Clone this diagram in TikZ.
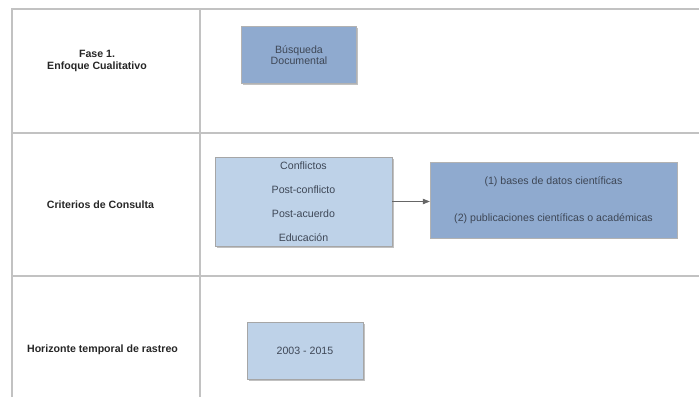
\documentclass[tikz,border=0pt]{standalone}
\usepackage{fontspec}
\setmainfont{Liberation Sans}
\usepackage{xcolor}
\usepackage{tikz}
\usetikzlibrary{arrows.meta, positioning, shadows}

\definecolor{boxdark}{HTML}{8FAACF}
\definecolor{boxlight}{HTML}{BED2E8}
\definecolor{gridgray}{HTML}{C2C2C2}
\definecolor{boxtext}{HTML}{3E4756}

\begin{document}
\begin{tikzpicture}[
      x=1pt, y=-1pt,
      every node/.style={font=\fontsize{10.6}{11.7}\selectfont, inner sep=0pt},
      rowlabel/.style={font=\bfseries\fontsize{10.6}{11.7}\selectfont, align=center, text=black!85},
      darkbox/.style={draw=gray!60, fill=boxdark, text=boxtext, align=center},
      lightbox/.style={draw=gray!70, fill=boxlight, text=boxtext, align=center},
      shade/.style={drop shadow={shadow xshift=1.5pt, shadow yshift=-1.5pt, fill=gray!70, opacity=0.7}}
    ]
      \useasboundingbox (0,0) rectangle (699,397);

      % table lines
      \draw[gridgray, line width=1.3pt] (12,397) -- (12,9) -- (699,9);
      \draw[gridgray, line width=1.3pt] (200,9) -- (200,397);
      \draw[gridgray, line width=1.3pt] (12,133) -- (699,133);
      \draw[gridgray, line width=1.3pt] (12,276) -- (699,276);

      % row labels
      \node[rowlabel] (fase) at (97,61) {Fase 1.\\Enfoque Cualitativo};
      \node[rowlabel] (criterios) at (100.5,205) {Criterios de Consulta};
      \node[rowlabel] (horizonte) at (102.5,350) {Horizonte temporal de rastreo};

      % boxes
      \node[darkbox, shade, minimum width=115pt, minimum height=57pt] (busqueda) at (299,55) {B\'usqueda\\Documental};
      \node[lightbox, shade, minimum width=177pt, minimum height=89pt,
            font=\fontsize{10.6}{24}\selectfont] (temas) at (303.5,201.5)
            {Conflictos\\Post-conflicto\\Post-acuerdo\\Educaci\'on};
      \node[darkbox, minimum width=247pt, minimum height=76pt,
            font=\fontsize{10.6}{37}\selectfont] (fuentes) at (553.5,200)
            {(1) bases de datos cient\'ificas\\(2) publicaciones cient\'ificas o acad\'emicas};
      \node[lightbox, shade, minimum width=116pt, minimum height=57pt] (periodo) at (305,350.5) {2003 - 2015};

      \draw[-{Triangle[length=7pt,width=5.5pt]}, draw=gray!80!black, fill=gray!80!black, line width=0.6pt]
        (temas.east) -- (temas.east -| fuentes.west);
    \end{tikzpicture}
\end{document}
